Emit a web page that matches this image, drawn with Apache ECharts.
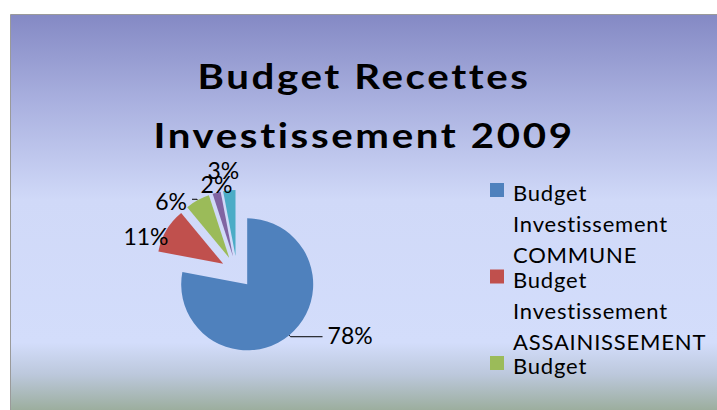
<!DOCTYPE html>
<html><head><meta charset="utf-8">
<script src="https://cdn.jsdelivr.net/npm/echarts@6/dist/echarts.min.js"></script>
<style>
html,body{margin:0;padding:0;background:#fff}
#c{width:717px;height:410px}
#c text[style*="22px"]{letter-spacing:0.8px}
#c text[style*="bold"]{letter-spacing:2.2px}
</style>
</head><body><div id="c"></div>
<script>
// ---- data ----
const titleText = 'Budget Recettes\nInvestissement 2009';
const categories = [
  'Budget Investissement COMMUNE',
  'Budget Investissement ASSAINISSEMENT',
  'Budget Investissement EAU',
  'Budget Investissement LOTISSEMENT',
  'Budget Investissement CCAS'
];
const values = [78, 11, 6, 2, 3];
const colors = ['#4F81BD', '#C0504D', '#9BBB59', '#8064A2', '#4BACC6'];

// ---- styling ----
const bgGradient = {
  type: 'linear', x: 0, y: 14, x2: 0, y2: 410, global: true,
  colorStops: [
    { offset: 0, color: '#8489C4' },
    { offset: 0.22, color: '#A9B0DF' },
    { offset: 0.47, color: '#D0D9F8' },
    { offset: 0.83, color: '#D3DDFB' },
    { offset: 0.91, color: '#BCC8DC' },
    { offset: 1, color: '#9CAE9E' }
  ]
};
const labelLines = [
  { show: true, length: 2, length2: 32 },
  { show: false, length: 1, length2: 2 },
  { show: true, length: 1, length2: 5 },
  { show: false, length: 1, length2: 2 },
  { show: false, length: 1, length2: 2 }
];
const labelNudge = [[0, -2], [10, 6], [0, 2], [23, -8], [17, -19]];
const legendIcon = 'path://M0,6h14v14H0z M0,0h0.01v0.01H0z M18,93h0.01v0.01h-0.01z';

const chart = echarts.init(document.getElementById('c'), null, { renderer: 'svg' });
chart.setOption({
  backgroundColor: '#ffffff',
  animation: false,
  graphic: [
    { type: 'rect', z: -10, shape: { x: 10.5, y: 14.5, width: 720, height: 400 },
      style: { fill: bgGradient, stroke: '#9A9A9A', lineWidth: 1 } },
    { type: 'text', z: 5, x: 364, y: 46.5, scaleX: 1.2,
      style: { text: titleText, fontFamily: 'Lato', fontWeight: 'bold', fontSize: 33.5,
        lineHeight: 59, textAlign: 'center', textVerticalAlign: 'top', fill: '#000' } },
    { type: 'rect', z: 100, shape: { x: 480, y: 389, width: 240, height: 22 },
      style: { fill: bgGradient } }
  ],
  legend: {
    orient: 'vertical', left: 490, top: 177, height: 800, padding: 0,
    itemWidth: 18, itemHeight: 93, itemGap: -6.5,
    icon: legendIcon, selectedMode: false,
    formatter: name => name.replace(/ /g, '\n'),
    textStyle: { fontFamily: 'Lato', fontSize: 22, lineHeight: 31, color: '#000' },
    data: categories
  },
  series: [{
    type: 'pie',
    center: [237, 272], radius: 66,
    startAngle: 90, clockwise: true,
    selectedMode: 'multiple', selectedOffset: 16,
    avoidLabelOverlap: false,
    emphasis: { disabled: true },
    label: { show: true, position: 'outside', formatter: p => p.value + '%',
      fontFamily: 'Lato', fontSize: 23, color: '#000' },
    labelLine: { show: true, length: 2, length2: 28, lineStyle: { color: '#000', width: 1 } },
    labelLayout: p => ({ hideOverlap: false, dx: labelNudge[p.dataIndex][0], dy: labelNudge[p.dataIndex][1] }),
    data: categories.map((n, i) => ({
      name: n, value: values[i], selected: true,
      itemStyle: { color: colors[i] },
      labelLine: labelLines[i]
    }))
  }]
});
</script></body></html>
